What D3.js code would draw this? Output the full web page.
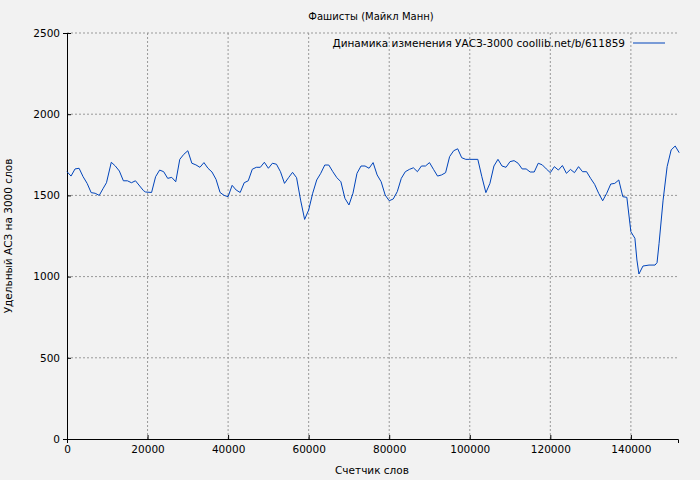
<!DOCTYPE html><html><head><meta charset="utf-8"><script src="https://cdn.jsdelivr.net/npm/d3@7"></script>
<style>body{margin:0;background:#f2f2f2}svg{font-family:"DejaVu Sans",sans-serif}</style></head><body><svg width="700" height="480"></svg>
<script>
const xs=[0,1000,2000,3000,4000,5000,6000,7000,8000,9000,9800,11000,12000,13000,14000,15000,16000,17000,19000,19500,21000,22000,23000,24000,25000,26000,27000,28000,29000,30000,31000,32000,33000,34000,35000,36000,37000,38000,39000,40000,41000,42000,43000,44000,45000,46000,47000,48000,49000,50000,51000,52000,53000,54000,55000,56000,57000,58000,59000,60000,61000,62000,63000,64000,65000,66000,67000,68000,69000,70000,71000,72000,73000,74000,75000,76000,77000,78000,79000,80000,81000,82000,83000,84000,85000,86000,87000,88000,89000,90000,91000,92000,93000,94000,95000,96000,97000,98000,99000,100000,102000,103000,104000,105000,106000,107000,108000,109000,110000,111000,112000,113000,114000,115000,116000,117000,118000,119000,120000,121000,122000,123000,124000,125000,126000,127000,128000,129000,130000,131000,132000,133000,134000,135000,136000,137000,138000,139000,140000,141000,141500,142000,143000,144500,146000,146500,147000,148000,149000,150000,151000,152000];
const ys=[1646,1619,1663,1667,1615,1574,1517,1513,1500,1544,1578,1704,1681,1650,1590,1590,1578,1590,1529,1521,1518,1615,1656,1646,1605,1611,1584,1722,1753,1775,1698,1688,1673,1702,1667,1644,1599,1518,1500,1492,1562,1533,1518,1578,1590,1661,1673,1673,1704,1667,1698,1692,1646,1574,1609,1642,1609,1471,1352,1410,1513,1595,1636,1687,1687,1646,1609,1584,1482,1441,1513,1636,1681,1681,1667,1702,1626,1584,1502,1467,1478,1523,1605,1646,1660,1670,1646,1681,1681,1702,1660,1619,1626,1640,1739,1775,1787,1732,1722,1722,1722,1615,1517,1574,1681,1722,1681,1673,1708,1714,1698,1663,1663,1644,1644,1698,1688,1663,1640,1677,1656,1684,1636,1660,1640,1677,1646,1646,1605,1568,1513,1467,1513,1570,1574,1595,1492,1488,1276,1236,1102,1016,1065,1071,1071,1086,1205,1471,1677,1780,1804,1763];
const xTicks=[0,20000,40000,60000,80000,100000,120000,140000];
const yTicks=[0,500,1000,1500,2000,2500];
const svg=d3.select("svg");
const L=67,R=678,T=33,B=439;
const x=d3.scaleLinear().domain([0,151700]).range([L,R]);
const y=d3.scaleLinear().domain([0,2500]).range([B,T]);
const g=svg.append("g");
g.selectAll(".gx").data(xTicks.slice(1)).join("line").attr("x1",d=>x(d)).attr("x2",d=>x(d)).attr("y1",T).attr("y2",B).attr("stroke","#999").attr("stroke-dasharray","2,2");
g.selectAll(".gy").data(yTicks.slice(1)).join("line").attr("x1",L).attr("x2",R).attr("y1",d=>y(d)).attr("y2",d=>y(d)).attr("stroke","#999").attr("stroke-dasharray","2,2");
const ax=svg.append("g").attr("transform",`translate(0,${B})`).call(d3.axisBottom(x).tickValues(xTicks).tickFormat(d3.format("d")).tickSize(4));
const ay=svg.append("g").attr("transform",`translate(${L},0)`).call(d3.axisLeft(y).tickValues(yTicks).tickFormat(d3.format("d")).tickSize(4));
[ax,ay].forEach(a=>{a.selectAll("text").attr("font-size",10.5).attr("fill","#000").attr("font-family","DejaVu Sans");a.select(".domain").attr("stroke","#000");});
ax.selectAll(".tick line").attr("transform","translate(0,-4)");
ay.selectAll(".tick line").attr("transform","translate(4,0)");
svg.append("path").datum(xs.map((d,i)=>[d,ys[i]])).attr("fill","none").attr("stroke","#0044bb").attr("stroke-width",1).attr("d",d3.line().x(d=>x(d[0])).y(d=>y(d[1])));
svg.append("text").attr("x",371).attr("y",20).attr("text-anchor","middle").attr("font-size",10).text("Фашисты (Майкл Манн)");
svg.append("text").attr("x",372).attr("y",474).attr("text-anchor","middle").attr("font-size",10.5).text("Счетчик слов");
svg.append("text").attr("transform","translate(12,236) rotate(-90)").attr("text-anchor","middle").attr("font-size",10.5).text("Удельный АСЗ на 3000 слов");
svg.append("text").attr("x",625).attr("y",47).attr("text-anchor","end").attr("font-size",10.5).text("Динамика изменения УАСЗ-3000 coollib.net/b/611859");
svg.append("line").attr("x1",633).attr("x2",665).attr("y1",43).attr("y2",43).attr("stroke","#0044bb");
</script></body></html>
